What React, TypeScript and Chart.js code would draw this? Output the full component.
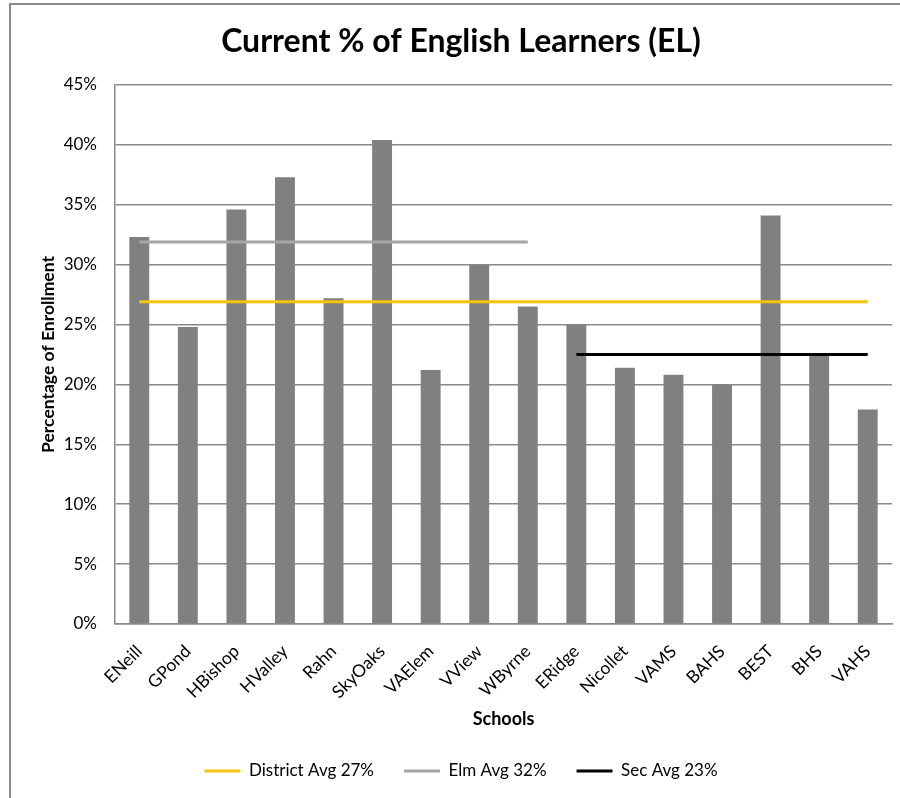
import React, { useEffect, useRef } from "react";
import { Chart, registerables } from "chart.js";

Chart.register(...registerables);

const schools = ["ENeill", "GPond", "HBishop", "HValley", "Rahn", "SkyOaks", "VAElem", "VView", "WByrne", "ERidge", "Nicollet", "VAMS", "BAHS", "BEST", "BHS", "VAHS"];
const elPercent = [32.3, 24.8, 34.6, 37.3, 27.2, 40.4, 21.2, 30.0, 26.5, 25.0, 21.4, 20.8, 20.0, 34.1, 22.4, 17.9];
const districtAvg = 26.9;
const elmAvg = 31.9;
const secAvg = 22.5;
const elmCount = 9; // first 9 schools are elementary
const yTicksMax = 45;
const yStep = 5;

const districtLine = schools.map(() => districtAvg);
const elmLine = schools.map((_, i) => (i < elmCount ? elmAvg : null));
const secLine = schools.map((_, i) => (i >= elmCount ? secAvg : null));

const FONT = "Lato";

const framePlugin = {
  id: "frame",
  beforeDraw(chart: any) {
    const ctx = chart.ctx;
    ctx.save();
    ctx.fillStyle = "#ffffff";
    ctx.fillRect(0, 0, chart.width, chart.height);
    ctx.strokeStyle = "#8a8a8a";
    ctx.lineWidth = 2;
    ctx.strokeRect(10, 4, 1000, 1000);
    ctx.restore();
  },
};

export default function App() {
  const ref = useRef<HTMLCanvasElement | null>(null);
  useEffect(() => {
    if (!ref.current) return;
    const chart = new Chart(ref.current, {
      type: "bar",
      data: {
        labels: schools,
        datasets: [
          {
            type: "bar",
            label: "Current % EL",
            data: elPercent,
            backgroundColor: "#808080",
            borderWidth: 0,
            barPercentage: 0.41,
            categoryPercentage: 1,
            order: 2,
          },
          {
            type: "line",
            label: "District Avg 27%",
            data: districtLine,
            borderColor: "#F2C40F",
            backgroundColor: "#F2C40F",
            borderWidth: 3,
            pointRadius: 0,
            pointStyle: "line",
            order: 1,
          },
          {
            type: "line",
            label: "Elm Avg 32%",
            data: elmLine,
            borderColor: "#A6A6A6",
            backgroundColor: "#A6A6A6",
            borderWidth: 3,
            pointRadius: 0,
            pointStyle: "line",
            spanGaps: false,
            order: 1,
          },
          {
            type: "line",
            label: "Sec Avg 23%",
            data: secLine,
            borderColor: "#000000",
            backgroundColor: "#000000",
            borderWidth: 3,
            pointRadius: 0,
            pointStyle: "line",
            spanGaps: false,
            order: 1,
          },
        ] as any,
      },
      options: {
        responsive: false,
        animation: false,
        layout: { padding: { left: 30, right: 8, top: 4, bottom: 8.5 } },
        plugins: {
          tooltip: { enabled: false },
          title: {
            display: true,
            text: "Current % of English Learners (EL)",
            color: "#000",
            font: { family: FONT, size: 32, weight: "bold" },
            padding: { top: 18, bottom: 24.6 },
          },
          legend: {
            position: "bottom",
            labels: {
              filter: (item: any) => item.datasetIndex !== 0,
              usePointStyle: true,
              pointStyleWidth: 36,
              padding: 30,
              color: "#000",
              font: { family: FONT, size: 17 },
            },
          },
        },
        scales: {
          x: {
            grid: { display: false },
            border: { display: true, color: "#8a8a8a", width: 1.5 },
            ticks: {
              autoSkip: false,
              minRotation: 45,
              maxRotation: 45,
              padding: 9,
              color: "#000",
              font: { family: FONT, size: 17.5 },
            },
            title: {
              display: true,
              text: "Schools",
              color: "#000",
              font: { family: FONT, size: 18, weight: "bold" },
              padding: { top: 4, bottom: 3 },
            },
            afterFit: (scale: any) => {
              scale.height = 108.5;
            },
          },
          y: {
            min: 0,
            max: yTicksMax,
            ticks: {
              stepSize: yStep,
              padding: 18,
              color: "#000",
              font: { family: FONT, size: 17 },
              callback: (v: any) => v + "%",
            },
            grid: { color: "#8a8a8a", lineWidth: 1.5, drawTicks: false },
            border: { display: true, color: "#8a8a8a", width: 1.5 },
            title: {
              display: true,
              text: "Percentage of Enrollment",
              color: "#000",
              font: { family: FONT, size: 17.5, weight: "bold" },
              padding: { top: 8, bottom: 4 },
            },
            afterFit: (scale: any) => {
              scale.width = 85;
            },
          },
        },
      } as any,
      plugins: [framePlugin],
    });
    return () => chart.destroy();
  }, []);
  return (
    <div style={{ position: "absolute", left: 0, top: 0, width: 900, height: 798, background: "#fff" }}>
      <canvas ref={ref} width={900} height={798} />
    </div>
  );
}
